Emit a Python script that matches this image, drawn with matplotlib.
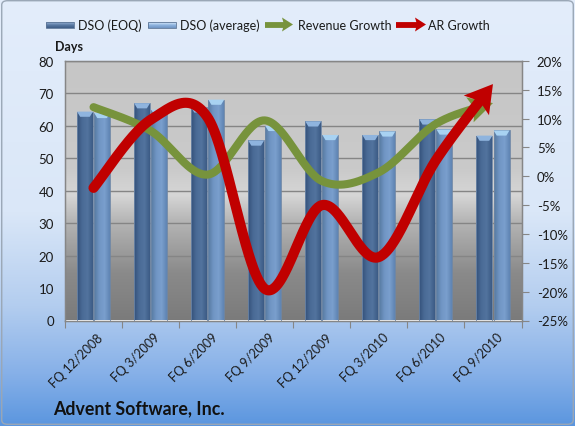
import numpy as np
import matplotlib
matplotlib.use('Agg')
import matplotlib.pyplot as plt
from matplotlib.patches import Rectangle, Polygon, FancyBboxPatch
from matplotlib.colors import LinearSegmentedColormap

# ---------------- data ----------------
quarters = ['FQ 12/2008', 'FQ 3/2009', 'FQ 6/2009', 'FQ 9/2009',
            'FQ 12/2009', 'FQ 3/2010', 'FQ 6/2010', 'FQ 9/2010']
dso_eoq = [64.4, 67.0, 65.7, 55.5, 61.4, 57.2, 62.0, 57.0]
dso_avg = [64.0, 65.0, 68.1, 60.0, 57.2, 58.3, 58.9, 58.6]
rev_growth = [12.0, 7.9, 0.3, 9.7, -0.8, 0.7, 9.1, 12.7]
ar_growth = [-2.0, 9.8, 10.2, -19.5, -5.0, -14.0, 2.8, 16.0]
left_ticks = list(range(0, 81, 10))
right_ticks = list(range(-25, 21, 5))

FONT = 'Lato'
plt.rcParams['font.family'] = [FONT, 'DejaVu Sans']

W, H = 575, 427
fig = plt.figure(figsize=(W / 100, H / 100), dpi=100)

def fx(x):
    return x / W

def fy(y):
    return 1 - y / H

# ---------------- figure background gradient ----------------
bg = fig.add_axes([0, 0, 1, 1], zorder=-10)
bg.set_axis_off()
bg_cmap = LinearSegmentedColormap.from_list(
    'bg', [(0.0, '#e3edfb'), (0.5, '#dae7f8'), (0.72, '#b3cdef'),
           (0.88, '#86b0e8'), (1.0, '#5b96df')])
grad = np.linspace(0, 1, 256).reshape(-1, 1)
bg.imshow(grad, cmap=bg_cmap, aspect='auto', extent=[0, 1, 0, 1], origin='upper')
bg.set_xlim(0, 1)
bg.set_ylim(0, 1)
bg.add_patch(FancyBboxPatch((0.003, 0.004), 0.994, 0.992,
                            boxstyle='round,pad=0,rounding_size=0.01',
                            fill=False, edgecolor='#9aa7b6', lw=1.0,
                            transform=bg.transAxes))

# ---------------- main axes ----------------
L, R, T, B = 65, 521.5, 62, 321.5
ax = fig.add_axes([fx(L), fy(B), fx(R - L), (B - T) / H])
n = len(quarters)
xs = np.arange(n)
ax.set_xlim(-0.5, n - 0.5)
ax.set_ylim(0, 80)

# plot area gradient
pa_cmap = LinearSegmentedColormap.from_list(
    'pa', [(0.0, '#c6c6c6'), (0.42, '#cacaca'), (0.52, '#d6d6d6'),
           (0.62, '#b5b5b5'), (0.82, '#8a8a8a'), (1.0, '#7b7b7b')])
ax.imshow(grad, cmap=pa_cmap, aspect='auto', extent=[-0.5, n - 0.5, 0, 80],
          origin='upper', zorder=0)

for t in left_ticks[1:]:
    ax.axhline(t, color='#858585', lw=1.0, zorder=1)

# bars with horizontal gradient
bw = 0.28
off = 0.15

def bar_grad(x0, x1, h, colors, cap):
    rect = Rectangle((x0, 0), x1 - x0, h, facecolor='none', edgecolor='#6d86a6',
                     lw=0.6, zorder=3)
    ax.add_patch(rect)
    cm = LinearSegmentedColormap.from_list('b', colors)
    g = np.linspace(0, 1, 64).reshape(1, -1)
    im = ax.imshow(g, cmap=cm, aspect='auto', extent=[x0, x1, 0, h], zorder=2)
    im.set_clip_path(rect)
    ch = 1.6
    ax.add_patch(Polygon([(x0, h), (x1, h), (x0 + (x1 - x0) * 0.8, h - ch),
                          (x0 + (x1 - x0) * 0.2, h - ch)], closed=True,
                         facecolor=cap, edgecolor='none', zorder=3))

eoq_cols = ['#34507a', '#4a6b96', '#52739e', '#3c5b85']
avg_cols = ['#55799f', '#7095c4', '#7a9fcd', '#5f84b3']
for i in range(n):
    bar_grad(xs[i] - off - bw / 2, xs[i] - off + bw / 2, dso_eoq[i], eoq_cols, '#8fb4de')
    bar_grad(xs[i] + off - bw / 2, xs[i] + off + bw / 2, dso_avg[i], avg_cols, '#a8d2f2')

# spines and ticks
for s in ['left', 'bottom', 'top', 'right']:
    ax.spines[s].set_color('#868686')
    ax.spines[s].set_linewidth(1.0)
ax.set_yticks(left_ticks)
ax.set_yticklabels([str(t) for t in left_ticks], fontsize=9.5, color='#1a1a1a')
ax.tick_params(axis='y', length=0, pad=8)
ax.set_xticks(np.arange(-0.5, n, 1.0), minor=False)
ax.set_xticklabels([])
ax.tick_params(axis='x', length=5, direction='out', color='#868686')
for i, q in enumerate(quarters):
    ax.text(xs[i] + 0.06, -3.2, q, rotation=45, ha='right', va='top',
            rotation_mode='anchor', fontsize=9, color='#1a1a1a')

# ---------------- right axis / lines ----------------
ax2 = ax.twinx()
ax2.set_ylim(-25, 20)
ax2.set_yticks(right_ticks)
ax2.set_yticklabels([f'{t}%' for t in right_ticks], fontsize=9.5, color='#1a1a1a')
ax2.tick_params(axis='y', length=5, direction='out', color='#868686', pad=6)
for s in ['left', 'bottom', 'top', 'right']:
    ax2.spines[s].set_color('#868686')
ax2.patch.set_visible(False)


def catmull(xv, yv, k=60):
    P = np.column_stack([xv, yv]).astype(float)
    P = np.vstack([P[0], P, P[-1]])
    out = []
    for i in range(1, len(P) - 2):
        p0, p1, p2, p3 = P[i - 1], P[i], P[i + 1], P[i + 2]
        t = np.linspace(0, 1, k, endpoint=False)[:, None]
        m1 = (p2 - p0) / 2
        m2 = (p3 - p1) / 2
        h00 = 2 * t**3 - 3 * t**2 + 1
        h10 = t**3 - 2 * t**2 + t
        h01 = -2 * t**3 + 3 * t**2
        h11 = t**3 - t**2
        out.append(h00 * p1 + h10 * m1 + h01 * p2 + h11 * m2)
    out.append(P[-2][None, :])
    return np.vstack(out)


def arrow_line(yv, color, lw_pt, head_len, head_w, z):
    pts = catmull(xs, yv)
    disp = ax2.transData.transform(pts)
    tip = disp[-1]
    d = np.linalg.norm(disp - tip, axis=1)
    idx = np.where(d >= head_len * 0.8)[0][-1]
    base = disp[idx]
    u = (tip - base) / np.linalg.norm(tip - base)
    perp = np.array([-u[1], u[0]])
    bcen = tip - u * head_len
    notch = tip - u * head_len * 0.8
    head = np.array([tip, bcen + perp * head_w, notch, bcen - perp * head_w])
    head_data = ax2.transData.inverted().transform(head)
    line_data = ax2.transData.inverted().transform(np.vstack([disp[:idx + 1], notch]))
    ax2.plot(line_data[:, 0], line_data[:, 1], color=color, lw=lw_pt,
             solid_capstyle='round', solid_joinstyle='round', zorder=z)
    ax2.add_patch(Polygon(head_data, closed=True, facecolor=color,
                          edgecolor='none', zorder=z))

arrow_line(rev_growth, '#77933c', 5.8, 24, 13, 5)
arrow_line(ar_growth, '#c00000', 7.3, 27, 16, 6)
ax2.set_xlim(-0.5, n - 0.5)

# ---------------- legend (manual) ----------------
la = fig.add_axes([0, 0, 1, 1], zorder=20)
la.set_axis_off()
la.set_xlim(0, W)
la.set_ylim(H, 0)
ly = 25.5

def swatch(x, cols):
    r = Rectangle((x, ly - 3), 28, 6, facecolor='none', edgecolor='#5c7596', lw=0.6)
    la.add_patch(r)
    cm = LinearSegmentedColormap.from_list('s', cols)
    g = np.linspace(0, 1, 32).reshape(-1, 1)
    im = la.imshow(g, cmap=cm, aspect='auto', extent=[x, x + 28, ly + 3, ly - 3])
    im.set_clip_path(r)

swatch(46, ['#9bb6d8', '#5a7aa3', '#3e5d86'])
la.text(78, ly, 'DSO (EOQ)', fontsize=9, va='center', ha='left', color='#1a1a1a')
swatch(148, ['#dff0ff', '#8fb4df', '#6f94c3'])
la.text(180, ly, 'DSO (average)', fontsize=9, va='center', ha='left', color='#1a1a1a')

def leg_arrow(x0, x1, color):
    la.plot([x0, x1 - 8], [ly, ly], color=color, lw=4.2, solid_capstyle='butt')
    la.add_patch(Polygon([(x1, ly), (x1 - 11, ly - 7), (x1 - 9, ly), (x1 - 11, ly + 7)],
                         closed=True, facecolor=color, edgecolor='none'))

leg_arrow(265, 293, '#77933c')
la.text(298, ly, 'Revenue Growth', fontsize=9, va='center', ha='left', color='#1a1a1a')
leg_arrow(396, 426, '#c00000')
la.text(428, ly, 'AR Growth', fontsize=9, va='center', ha='left', color='#1a1a1a')

la.text(55, 47, 'Days', fontsize=9, fontweight='bold', va='center', ha='left',
        color='#1a1a1a')
la.text(53, 409, 'Advent Software, Inc.', fontsize=12.8, fontweight='bold',
        va='center', ha='left', color='#111111')

fig.savefig('out.png', dpi=100)
